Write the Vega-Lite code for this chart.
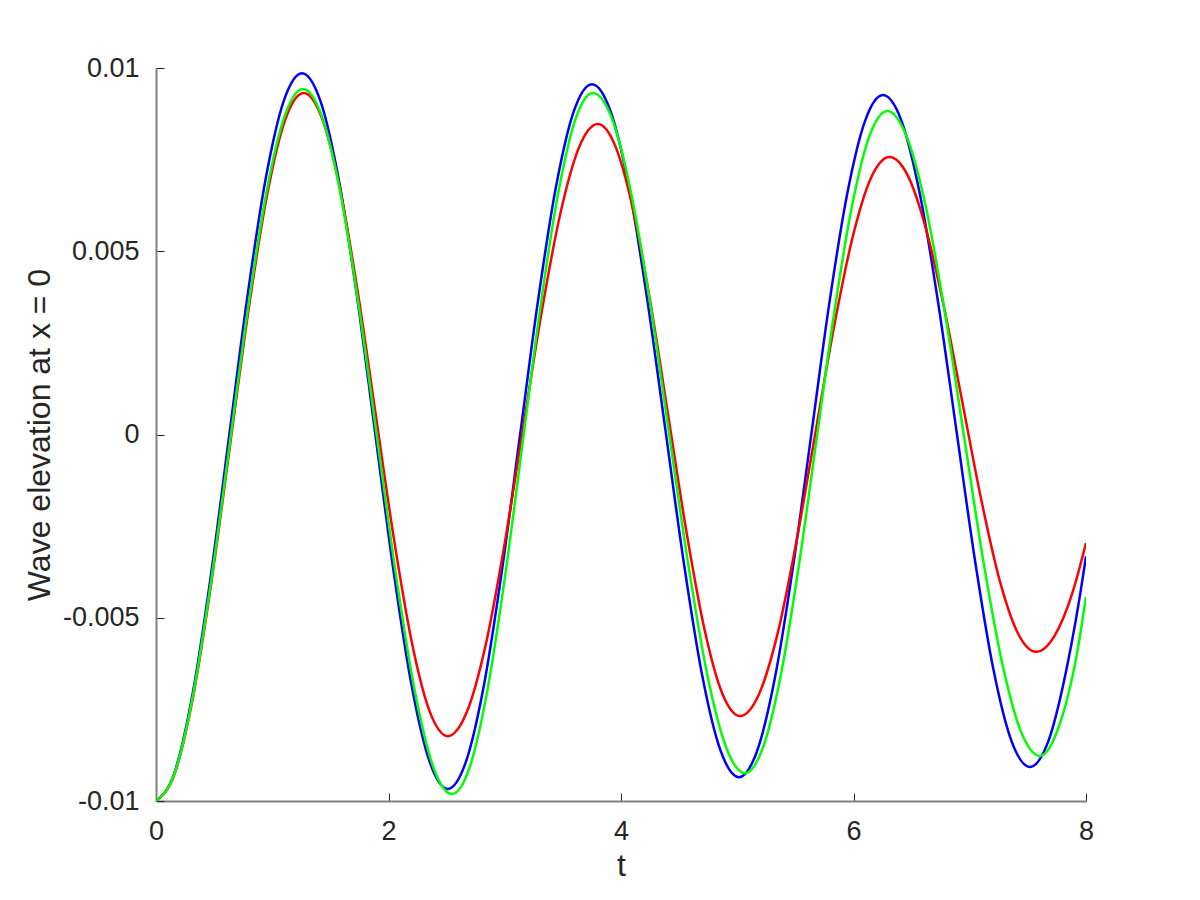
{
  "$schema": "https://vega.github.io/schema/vega-lite/v6.json",
  "width": 930,
  "height": 733,
  "autosize": "none",
  "padding": {"left": 156, "top": 68, "right": 114, "bottom": 99},
  "background": "white",
  "config": {"view": {"stroke": null}, "font": "Liberation Sans"},
  "data": {"values": [
    {"t": 0, "y": -0.01, "s": "blue"},
    {"t": 0.157, "y": -0.009244, "s": "blue"},
    {"t": 0.314, "y": -0.007092, "s": "blue"},
    {"t": 0.471, "y": -0.00387, "s": "blue"},
    {"t": 0.628, "y": -0.00007, "s": "blue"},
    {"t": 0.785, "y": 0.00373, "s": "blue"},
    {"t": 0.942, "y": 0.006952, "s": "blue"},
    {"t": 1.099, "y": 0.009104, "s": "blue"},
    {"t": 1.256, "y": 0.00986, "s": "blue"},
    {"t": 1.4128, "y": 0.009117, "s": "blue"},
    {"t": 1.5695, "y": 0.007, "s": "blue"},
    {"t": 1.7263, "y": 0.003832, "s": "blue"},
    {"t": 1.883, "y": 0.000095, "s": "blue"},
    {"t": 2.0398, "y": -0.003642, "s": "blue"},
    {"t": 2.1965, "y": -0.00681, "s": "blue"},
    {"t": 2.3533, "y": -0.008927, "s": "blue"},
    {"t": 2.51, "y": -0.00967, "s": "blue"},
    {"t": 2.665, "y": -0.008938, "s": "blue"},
    {"t": 2.82, "y": -0.006854, "s": "blue"},
    {"t": 2.975, "y": -0.003734, "s": "blue"},
    {"t": 3.13, "y": -0.000055, "s": "blue"},
    {"t": 3.285, "y": 0.003624, "s": "blue"},
    {"t": 3.44, "y": 0.006744, "s": "blue"},
    {"t": 3.595, "y": 0.008828, "s": "blue"},
    {"t": 3.75, "y": 0.00956, "s": "blue"},
    {"t": 3.908, "y": 0.00884, "s": "blue"},
    {"t": 4.066, "y": 0.006791, "s": "blue"},
    {"t": 4.224, "y": 0.003723, "s": "blue"},
    {"t": 4.383, "y": 0.000105, "s": "blue"},
    {"t": 4.541, "y": -0.003513, "s": "blue"},
    {"t": 4.699, "y": -0.006581, "s": "blue"},
    {"t": 4.857, "y": -0.00863, "s": "blue"},
    {"t": 5.015, "y": -0.00935, "s": "blue"},
    {"t": 5.17, "y": -0.008642, "s": "blue"},
    {"t": 5.325, "y": -0.006625, "s": "blue"},
    {"t": 5.48, "y": -0.003606, "s": "blue"},
    {"t": 5.635, "y": -0.000045, "s": "blue"},
    {"t": 5.789, "y": 0.003516, "s": "blue"},
    {"t": 5.944, "y": 0.006535, "s": "blue"},
    {"t": 6.099, "y": 0.008552, "s": "blue"},
    {"t": 6.254, "y": 0.00926, "s": "blue"},
    {"t": 6.412, "y": 0.008562, "s": "blue"},
    {"t": 6.57, "y": 0.006576, "s": "blue"},
    {"t": 6.728, "y": 0.003602, "s": "blue"},
    {"t": 6.886, "y": 0.000095, "s": "blue"},
    {"t": 7.044, "y": -0.003412, "s": "blue"},
    {"t": 7.202, "y": -0.006386, "s": "blue"},
    {"t": 7.36, "y": -0.008372, "s": "blue"},
    {"t": 7.518, "y": -0.00907, "s": "blue"},
    {"t": 7.674, "y": -0.008386, "s": "blue"},
    {"t": 7.83, "y": -0.006438, "s": "blue"},
    {"t": 7.987, "y": -0.0036, "s": "blue"},
    {"t": 8.0, "y": -0.00332, "s": "blue"},

    {"t": 0, "y": -0.01, "s": "red"},
    {"t": 0.159, "y": -0.009265, "s": "red"},
    {"t": 0.318, "y": -0.007171, "s": "red"},
    {"t": 0.476, "y": -0.004037, "s": "red"},
    {"t": 0.635, "y": -0.00034, "s": "red"},
    {"t": 0.794, "y": 0.003357, "s": "red"},
    {"t": 0.953, "y": 0.006491, "s": "red"},
    {"t": 1.111, "y": 0.008585, "s": "red"},
    {"t": 1.27, "y": 0.00932, "s": "red"},
    {"t": 1.425, "y": 0.008652, "s": "red"},
    {"t": 1.58, "y": 0.00675, "s": "red"},
    {"t": 1.735, "y": 0.003903, "s": "red"},
    {"t": 1.89, "y": 0.000545, "s": "red"},
    {"t": 2.045, "y": -0.002813, "s": "red"},
    {"t": 2.2, "y": -0.00566, "s": "red"},
    {"t": 2.355, "y": -0.007562, "s": "red"},
    {"t": 2.51, "y": -0.00823, "s": "red"},
    {"t": 2.671, "y": -0.007594, "s": "red"},
    {"t": 2.833, "y": -0.005784, "s": "red"},
    {"t": 2.994, "y": -0.003075, "s": "red"},
    {"t": 3.155, "y": 0.00012, "s": "red"},
    {"t": 3.316, "y": 0.003315, "s": "red"},
    {"t": 3.478, "y": 0.006024, "s": "red"},
    {"t": 3.639, "y": 0.007834, "s": "red"},
    {"t": 3.8, "y": 0.00847, "s": "red"},
    {"t": 3.953, "y": 0.007855, "s": "red"},
    {"t": 4.106, "y": 0.006105, "s": "red"},
    {"t": 4.259, "y": 0.003485, "s": "red"},
    {"t": 4.412, "y": 0.000395, "s": "red"},
    {"t": 4.565, "y": -0.002695, "s": "red"},
    {"t": 4.718, "y": -0.005315, "s": "red"},
    {"t": 4.871, "y": -0.007065, "s": "red"},
    {"t": 5.024, "y": -0.00768, "s": "red"},
    {"t": 5.185, "y": -0.0071, "s": "red"},
    {"t": 5.346, "y": -0.005447, "s": "red"},
    {"t": 5.506, "y": -0.002973, "s": "red"},
    {"t": 5.667, "y": -0.000055, "s": "red"},
    {"t": 5.828, "y": 0.002863, "s": "red"},
    {"t": 5.989, "y": 0.005337, "s": "red"},
    {"t": 6.149, "y": 0.00699, "s": "red"},
    {"t": 6.31, "y": 0.00757, "s": "red"},
    {"t": 6.468, "y": 0.007056, "s": "red"},
    {"t": 6.625, "y": 0.005593, "s": "red"},
    {"t": 6.783, "y": 0.003403, "s": "red"},
    {"t": 6.94, "y": 0.00082, "s": "red"},
    {"t": 7.098, "y": -0.001763, "s": "red"},
    {"t": 7.255, "y": -0.003953, "s": "red"},
    {"t": 7.413, "y": -0.005416, "s": "red"},
    {"t": 7.57, "y": -0.00593, "s": "red"},
    {"t": 7.728, "y": -0.0055, "s": "red"},
    {"t": 7.885, "y": -0.0043, "s": "red"},
    {"t": 8.0, "y": -0.00296, "s": "red"},

    {"t": 0, "y": -0.01, "s": "green"},
    {"t": 0.158, "y": -0.009261, "s": "green"},
    {"t": 0.316, "y": -0.007155, "s": "green"},
    {"t": 0.474, "y": -0.004003, "s": "green"},
    {"t": 0.633, "y": -0.000285, "s": "green"},
    {"t": 0.791, "y": 0.003433, "s": "green"},
    {"t": 0.949, "y": 0.006585, "s": "green"},
    {"t": 1.107, "y": 0.008691, "s": "green"},
    {"t": 1.265, "y": 0.00943, "s": "green"},
    {"t": 1.425, "y": 0.008698, "s": "green"},
    {"t": 1.585, "y": 0.006612, "s": "green"},
    {"t": 1.745, "y": 0.003491, "s": "green"},
    {"t": 1.906, "y": -0.00019, "s": "green"},
    {"t": 2.066, "y": -0.003871, "s": "green"},
    {"t": 2.226, "y": -0.006992, "s": "green"},
    {"t": 2.386, "y": -0.009078, "s": "green"},
    {"t": 2.546, "y": -0.00981, "s": "green"},
    {"t": 2.698, "y": -0.009082, "s": "green"},
    {"t": 2.849, "y": -0.007009, "s": "green"},
    {"t": 3.001, "y": -0.003905, "s": "green"},
    {"t": 3.153, "y": -0.000245, "s": "green"},
    {"t": 3.304, "y": 0.003415, "s": "green"},
    {"t": 3.456, "y": 0.006519, "s": "green"},
    {"t": 3.607, "y": 0.008592, "s": "green"},
    {"t": 3.759, "y": 0.00932, "s": "green"},
    {"t": 3.923, "y": 0.008614, "s": "green"},
    {"t": 4.086, "y": 0.006602, "s": "green"},
    {"t": 4.25, "y": 0.003591, "s": "green"},
    {"t": 4.413, "y": 0.00004, "s": "green"},
    {"t": 4.577, "y": -0.003511, "s": "green"},
    {"t": 4.74, "y": -0.006522, "s": "green"},
    {"t": 4.904, "y": -0.008534, "s": "green"},
    {"t": 5.067, "y": -0.00924, "s": "green"},
    {"t": 5.22, "y": -0.008552, "s": "green"},
    {"t": 5.373, "y": -0.006594, "s": "green"},
    {"t": 5.526, "y": -0.003663, "s": "green"},
    {"t": 5.679, "y": -0.000205, "s": "green"},
    {"t": 5.831, "y": 0.003253, "s": "green"},
    {"t": 5.984, "y": 0.006184, "s": "green"},
    {"t": 6.137, "y": 0.008142, "s": "green"},
    {"t": 6.29, "y": 0.00883, "s": "green"},
    {"t": 6.454, "y": 0.00816, "s": "green"},
    {"t": 6.619, "y": 0.006253, "s": "green"},
    {"t": 6.783, "y": 0.003398, "s": "green"},
    {"t": 6.947, "y": 0.00003, "s": "green"},
    {"t": 7.111, "y": -0.003338, "s": "green"},
    {"t": 7.276, "y": -0.006193, "s": "green"},
    {"t": 7.44, "y": -0.0081, "s": "green"},
    {"t": 7.604, "y": -0.00877, "s": "green"},
    {"t": 7.763, "y": -0.008, "s": "green"},
    {"t": 7.921, "y": -0.006, "s": "green"},
    {"t": 8.0, "y": -0.00443, "s": "green"}
  ]},
  "mark": {"type": "line", "interpolate": "monotone", "strokeWidth": 2.5, "clip": true},
  "encoding": {
    "x": {
      "field": "t", "type": "quantitative",
      "scale": {"domain": [0, 8], "nice": false, "zero": false},
      "axis": {
        "title": "t", "values": [0, 2, 4, 6, 8], "grid": false,
        "domainColor": "#808080", "domainWidth": 2,
        "tickColor": "#262626", "tickSize": -8, "tickWidth": 1,
        "labelFont": "Liberation Sans", "labelFontSize": 27, "labelColor": "#262626",
        "labelPadding": 25, "labelFlush": false,
        "titleFont": "Liberation Sans", "titleFontSize": 32, "titleFontWeight": "normal", "titleColor": "#262626",
        "titlePadding": 6
      }
    },
    "y": {
      "field": "y", "type": "quantitative",
      "scale": {"domain": [-0.01, 0.01], "nice": false, "zero": false},
      "axis": {
        "title": "Wave elevation at x = 0", "values": [-0.01, -0.005, 0, 0.005, 0.01], "grid": false,
        "labelExpr": "datum.value < 0 ? '-' + format(-datum.value, '~g') : format(datum.value, '~g')",
        "domainColor": "#808080", "domainWidth": 2,
        "tickColor": "#262626", "tickSize": -8, "tickWidth": 1,
        "labelFont": "Liberation Sans", "labelFontSize": 27, "labelColor": "#262626",
        "labelPadding": 25, "labelFlush": false,
        "titleFont": "Liberation Sans", "titleFontSize": 32, "titleFontWeight": "normal", "titleColor": "#262626",
        "titlePadding": 6
      }
    },
    "color": {
      "field": "s", "type": "nominal",
      "scale": {"domain": ["blue", "red", "green"], "range": ["#0000ff", "#ff0000", "#00ff00"]},
      "legend": null
    }
  }
}
